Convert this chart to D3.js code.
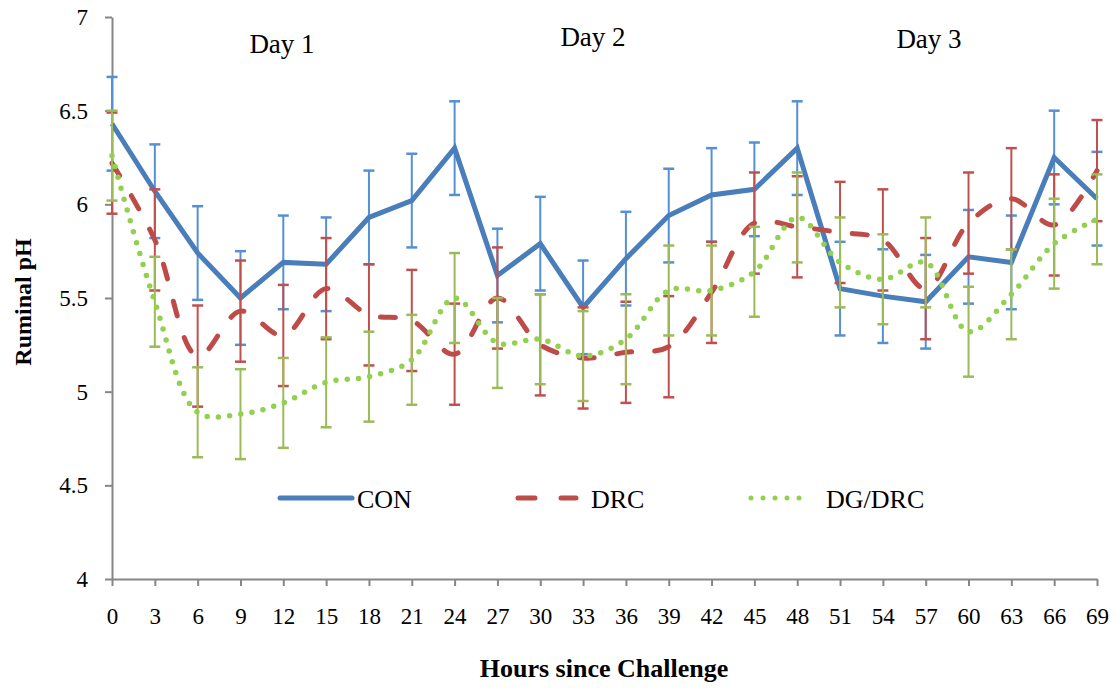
<html><head>
<title>Ruminal pH</title>
<script src="https://d3js.org/d3.v7.min.js"></script>
<style>
  body { margin: 0; background: #fff; }
  text { font-family: "Liberation Serif", "Times New Roman", serif; fill: #000; }
  .tick text { font-size: 23px; }
  .axis path, .axis line { stroke: #868686; stroke-width: 2; }
</style>
</head>
<body>
<svg id="chart" width="1119" height="688"></svg>
<script>

// hours after the challenge (categories on the x axis)
const hours = [0,3,6,9,12,15,18,21,24,27,30,33,36,39,42,45,48,51,54,57,60,63,66,69];

// means and standard errors
const conMean = [6.43,6.07,5.74,5.50,5.69,5.68,5.93,6.02,6.30,5.62,5.79,5.45,5.71,5.94,6.05,6.08,6.30,5.55,5.51,5.48,5.72,5.69,6.25,6.03];
const conSE   = [0.25,0.25,0.25,0.25,0.25,0.25,0.25,0.25,0.25,0.25,0.25,0.25,0.25,0.25,0.25,0.25,0.25,0.25,0.25,0.25,0.25,0.25,0.25,0.25];
const drcMean = [6.22,5.81,5.19,5.43,5.30,5.55,5.41,5.38,5.20,5.50,5.25,5.18,5.21,5.24,5.53,5.90,5.88,5.85,5.81,5.55,5.90,6.03,5.89,6.18];
const drcSE   = [0.27,0.27,0.27,0.27,0.27,0.27,0.27,0.27,0.27,0.27,0.27,0.27,0.27,0.27,0.27,0.27,0.27,0.27,0.27,0.27,0.27,0.27,0.27,0.27];
const dgMean  = [6.26,5.48,4.89,4.88,4.94,5.05,5.08,5.17,5.50,5.26,5.28,5.19,5.28,5.54,5.54,5.64,5.93,5.69,5.60,5.69,5.32,5.52,5.79,5.92];
const dgSE    = [0.24,0.24,0.24,0.24,0.24,0.24,0.24,0.24,0.24,0.24,0.24,0.24,0.24,0.24,0.24,0.24,0.24,0.24,0.24,0.24,0.24,0.24,0.24,0.24];

const seriesNames = ["CON","DRC","DG/DRC"];
const yTicks = [4,4.5,5,5.5,6,6.5,7];
const dayLabels = ["Day 1","Day 2","Day 3"];

const svg = d3.select("#chart");

const x = d3.scalePoint().domain(hours).range([112,1097]);
const y = d3.scaleLinear().domain([4,7]).range([579,17]);

// axes
svg.append("g").attr("class","axis")
   .attr("transform","translate(112,0)")
   .call(d3.axisLeft(y).tickValues(yTicks).tickSize(7).tickSizeOuter(0).tickPadding(17).tickFormat(d => String(d)));

svg.append("g").attr("class","axis")
   .attr("transform","translate(0,579)")
   .call(d3.axisBottom(x).tickSize(7).tickSizeOuter(0).tickPadding(22));

svg.selectAll(".tick text").attr("fill","#000");

// series styling
const series = [
  {name: seriesNames[0], mean: conMean, se: conSE, line: "#4a7ebb", bar: "#5590d3", dash: null, curve: d3.curveLinear},
  {name: seriesNames[1], mean: drcMean, se: drcSE, line: "#be4b48", bar: "#c0504d", dash: "15,23", curve: d3.curveCatmullRom.alpha(0.5)},
  {name: seriesNames[2], mean: dgMean,  se: dgSE,  line: "#92d050", bar: "#9bbb59", dash: "0,11.3", curve: d3.curveCatmullRom.alpha(0.5)}
];

series.forEach(s => {
  const pts = hours.map((h,i) => ({h: h, v: s.mean[i], e: s.se[i]}));
  const g = svg.append("g");

  // error bars
  const eb = g.selectAll("g.eb").data(pts).join("g").attr("class","eb");
  eb.append("line")
    .attr("x1", d => x(d.h)).attr("x2", d => x(d.h))
    .attr("y1", d => y(d.v + d.e)).attr("y2", d => y(d.v - d.e))
    .attr("stroke", s.bar).attr("stroke-width", 2);
  eb.append("line")
    .attr("x1", d => x(d.h) - 5.5).attr("x2", d => x(d.h) + 5.5)
    .attr("y1", d => y(d.v + d.e)).attr("y2", d => y(d.v + d.e))
    .attr("stroke", s.bar).attr("stroke-width", 2.5);
  eb.append("line")
    .attr("x1", d => x(d.h) - 5.5).attr("x2", d => x(d.h) + 5.5)
    .attr("y1", d => y(d.v - d.e)).attr("y2", d => y(d.v - d.e))
    .attr("stroke", s.bar).attr("stroke-width", 2.5);

  // mean line
  g.append("path")
   .datum(pts)
   .attr("d", d3.line().x(d => x(d.h)).y(d => y(d.v)).curve(s.curve))
   .attr("fill","none")
   .attr("stroke", s.line)
   .attr("stroke-width", s.dash === "0,11.3" ? 5.5 : 5)
   .attr("stroke-linecap", s.dash ? "round" : "butt")
   .attr("stroke-linejoin","miter")
   .attr("stroke-dasharray", s.dash);
});

// legend
const legendX = [280, 516, 749];
const legendText = [357, 591, 826];
series.forEach((s,i) => {
  svg.append("line")
     .attr("x1", legendX[i] + (s.dash ? 2 : 0)).attr("x2", legendX[i] + (s.dash ? 60 : 72))
     .attr("y1", 498).attr("y2", 498)
     .attr("stroke", s.line).attr("stroke-width", 5)
     .attr("stroke-linecap","round")
     .attr("stroke-dasharray", s.dash === "0,11.3" ? "0,12" : (s.dash ? "17,26" : null));
  svg.append("text")
     .attr("x", legendText[i]).attr("y", 508)
     .style("font-size","26px")
     .text(s.name);
});

// day labels
const dayX = [282, 593, 929];
const dayY = [53, 46, 48];
svg.selectAll("text.day").data(dayLabels).join("text")
   .attr("class","day")
   .attr("x", (d,i) => dayX[i]).attr("y", (d,i) => dayY[i])
   .attr("text-anchor","middle")
   .style("font-size","27px")
   .text(d => d);

// axis titles
svg.append("text")
   .attr("transform","translate(31,302) rotate(-90)")
   .attr("text-anchor","middle")
   .style("font-size","24px").style("font-weight","bold")
   .text("Ruminal pH");

svg.append("text")
   .attr("x", 604).attr("y", 677)
   .attr("text-anchor","middle")
   .style("font-size","26px").style("font-weight","bold")
   .text("Hours since Challenge");

</script>
</body>
</html>
